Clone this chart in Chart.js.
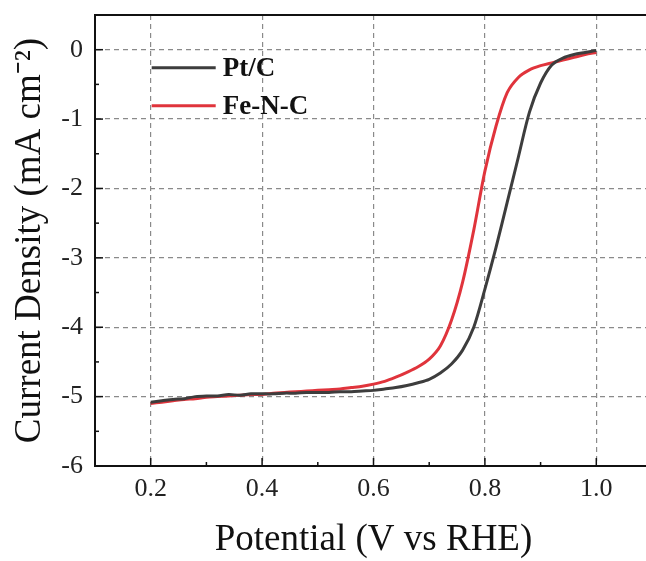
<!DOCTYPE html>
<html>
<head>
<meta charset="utf-8">
<script src="https://cdn.jsdelivr.net/npm/chart.js@4"></script>
<style>
  html, body { margin: 0; padding: 0; background: #fff; overflow: hidden; }
  #wrap { width: 656px; height: 561px; }
</style>
</head>
<body>
<div id="wrap"><canvas id="lsv-chart"></canvas></div>
<script>
// potential (V vs RHE)
const potential = [0.20, 0.22, 0.24, 0.26, 0.28, 0.30, 0.32, 0.34, 0.36, 0.38,
  0.40, 0.42, 0.44, 0.46, 0.48, 0.50, 0.52, 0.54, 0.56, 0.58,
  0.60, 0.62, 0.64, 0.66, 0.68, 0.70, 0.72, 0.74, 0.76, 0.78,
  0.80, 0.82, 0.84, 0.86, 0.88, 0.90, 0.92, 0.94, 0.96, 0.98, 1.00];

// current density (mA cm-2)
const ptC = [-5.08, -5.06, -5.04, -5.03, -5.00, -4.99, -4.99, -4.97, -4.98, -4.96,
  -4.96, -4.96, -4.95, -4.95, -4.94, -4.94, -4.94, -4.93, -4.93, -4.92,
  -4.91, -4.89, -4.87, -4.84, -4.80, -4.75, -4.66, -4.53, -4.33, -4.00,
  -3.45, -2.85, -2.20, -1.55, -0.90, -0.48, -0.22, -0.12, -0.07, -0.04, -0.01];

const feNC = [-5.10, -5.08, -5.06, -5.04, -5.03, -5.01, -5.00, -4.99, -4.98, -4.97,
  -4.97, -4.95, -4.94, -4.93, -4.92, -4.91, -4.90, -4.89, -4.87, -4.85,
  -4.82, -4.78, -4.72, -4.65, -4.57, -4.46, -4.27, -3.90, -3.35, -2.60,
  -1.75, -1.10, -0.62, -0.40, -0.29, -0.23, -0.19, -0.15, -0.11, -0.07, -0.04];

const xMajor = [0.2, 0.4, 0.6, 0.8, 1.0];
const xMinor = [0.1, 0.3, 0.5, 0.7, 0.9];
const yMajor = [-6, -5, -4, -3, -2, -1, 0];
const yMinor = [-5.5, -4.5, -3.5, -2.5, -1.5, -0.5];

const serif = "'Liberation Serif', 'Times New Roman', serif";

const toPoints = (ys) => potential.map((x, i) => ({ x: x, y: ys[i] }));

// inward ticks, top frame line and legend
const framePlugin = {
  id: "frame",
  afterDraw(chart) {
    const { ctx, chartArea, scales } = chart;
    const xs = scales.x, ys = scales.y;
    ctx.save();
    ctx.strokeStyle = "#111";
    ctx.lineWidth = 2;
    ctx.beginPath();
    ctx.moveTo(chartArea.left - 1, chartArea.top);
    ctx.lineTo(chartArea.right + 10, chartArea.top);
    ctx.stroke();

    ctx.lineWidth = 1.5;
    const tick = (v, len, isX) => {
      ctx.beginPath();
      if (isX) {
        const px = xs.getPixelForValue(v);
        ctx.moveTo(px, chartArea.bottom);
        ctx.lineTo(px, chartArea.bottom - len);
      } else {
        const py = ys.getPixelForValue(v);
        ctx.moveTo(chartArea.left, py);
        ctx.lineTo(chartArea.left + len, py);
      }
      ctx.stroke();
    };
    xMajor.forEach(v => tick(v, 8, true));
    xMinor.forEach(v => tick(v, 4, true));
    yMajor.forEach(v => tick(v, 8, false));
    yMinor.forEach(v => tick(v, 4, false));

    // legend
    const lx = xs.getPixelForValue(0.2) + 1;
    let ly = ys.getPixelForValue(0) + 18;
    ctx.font = "bold 27px " + serif;
    ctx.textBaseline = "middle";
    chart.data.datasets.forEach(ds => {
      ctx.strokeStyle = ds.borderColor;
      ctx.lineWidth = 3;
      ctx.beginPath();
      ctx.moveTo(lx, ly);
      ctx.lineTo(lx + 64, ly);
      ctx.stroke();
      ctx.fillStyle = "#111";
      ctx.fillText(ds.label, lx + 71, ly + 1);
      ly += 38;
    });
    ctx.restore();
  }
};

new Chart(document.getElementById("lsv-chart"), {
  type: "line",
  data: {
    datasets: [
      { label: "Pt/C", data: toPoints(ptC), borderColor: "#3d3d3d", borderWidth: 3, pointRadius: 0, tension: 0.3 },
      { label: "Fe-N-C", data: toPoints(feNC), borderColor: "#e0343c", borderWidth: 3, pointRadius: 0, tension: 0.3 }
    ]
  },
  options: {
    responsive: true,
    maintainAspectRatio: false,
    animation: false,
    layout: { padding: { top: 15, right: 4, left: 0, bottom: 0 } },
    plugins: { legend: { display: false }, tooltip: { enabled: false } },
    scales: {
      x: {
        type: "linear",
        min: 0.1,
        max: 1.1,
        afterBuildTicks: s => { s.ticks = xMajor.map(v => ({ value: v })); },
        afterFit: s => { s.height = 95; s.paddingLeft = 0; s.paddingRight = 0; },
        grid: { color: "#8a8a8a", lineWidth: 1.2, drawTicks: false },
        border: { color: "#111", width: 2, dash: [5, 4] },
        ticks: {
          padding: 8,
          color: "#222",
          font: { family: serif, size: 26 },
          callback: v => v.toFixed(1)
        },
        title: {
          display: true,
          text: "Potential (V vs RHE)",
          color: "#111",
          font: { family: serif, size: 37, lineHeight: 1.1 },
          padding: { top: 0, bottom: 0 }
        }
      },
      y: {
        min: -6,
        max: 0.5,
        afterBuildTicks: s => { s.ticks = yMajor.map(v => ({ value: v })); },
        afterFit: s => { s.width = 95; s.paddingTop = 0; s.paddingBottom = 0; },
        grid: { color: "#8a8a8a", lineWidth: 1.2, drawTicks: false },
        border: { color: "#111", width: 2, dash: [5, 4] },
        ticks: {
          padding: 12,
          color: "#222",
          font: { family: serif, size: 26 }
        },
        title: {
          display: true,
          text: "Current Density (mA cm\u207B\u00B2)",
          color: "#111",
          font: { family: serif, size: 37, lineHeight: 1.1 },
          padding: { top: 10, bottom: 0 }
        }
      }
    }
  },
  plugins: [framePlugin]
});
</script>
</body>
</html>
